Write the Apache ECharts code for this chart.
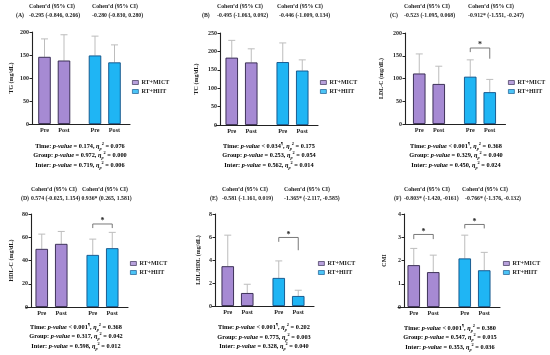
<!DOCTYPE html>
<html><head><meta charset="utf-8">
<script src="https://cdn.jsdelivr.net/npm/echarts@6/dist/echarts.min.js"></script>
<style>html,body{margin:0;padding:0;background:#fff}#c{width:550px;height:355px}</style>
</head><body><div id="c"></div>
<script>
// ---------- data ----------
const phases = ['Pre', 'Post'];
const groups = ['RT+MICT', 'RT+HIIT'];
const letters = ['(A)', '(B)', '(C)', '(D)', '(E)', '(F)'];
const yNames = ['TG (mg/dL)', 'TC (mg/dL)', 'LDL-C (mg/dL)', 'HDL-C (mg/dL)', 'LDL/HDL (mg/dL)', 'CMI'];
const yMax = [200, 250, 200, 80, 8, 4];
const yStep = [50, 50, 50, 20, 2, 1];

// means [Pre, Post] and SD [Pre, Post]
const tgMICT = [146, 138], tgMICTsd = [39, 56];
const tgHIIT = [149, 134], tgHIITsd = [42, 38];
const tcMICT = [183, 170], tcMICTsd = [47, 37];
const tcHIIT = [171, 148], tcHIITsd = [52, 29];
const ldlMICT = [111, 88], ldlMICTsd = [43, 39];
const ldlHIIT = [104, 70], ldlHIITsd = [37, 28];
const hdlMICT = [50, 54.3], hdlMICTsd = [12.7, 10.7];
const hdlHIIT = [44.8, 50.6], hdlHIITsd = [13.6, 13.6];
const ratioMICT = [3.46, 1.13], ratioMICTsd = [2.7, 0.76];
const ratioHIIT = [2.44, 0.87], ratioHIITsd = [1.48, 0.5];
const cmiMICT = [1.8, 1.5], cmiMICTsd = [0.72, 0.73];
const cmiHIIT = [2.09, 1.58], cmiHIITsd = [1.0, 0.77];

// significance brackets: [group index, bracket height, left leg end, right leg end]
const sigA = [];
const sigB = [];
const sigC = [[1, 167, 158, 143.5]];
const sigD = [[1, 71.4, 67.9, 67.9]];
const sigE = [[1, 5.96, 5.58, 4.85]];
const sigF = [[0, 3.12, 2.92, 2.92], [1, 3.55, 3.38, 3.38]];

const cohenMICT = ['-0.295 (-0.846, 0.266)', '-0.495 (-1.063, 0.092)', '-0.523 (-1.095, 0.068)',
                   '0.574 (-0.025, 1.154)', '-0.581 (-1.161, 0.019)', '-0.803* (-1.420, -0161)'];
const cohenHIIT = ['-0.280 (-0.830, 0.280)', '-0.446 (-1.009, 0.134)', '-0.912* (-1.551, -0.247)',
                   '0.936* (0.265, 1.581)', '-1.365* (-2.117, -0.585)', '-0.766* (-1.376, -0.132)'];

const timeP = ['= 0.174', '< 0.034', '< 0.001', '< 0.001', '< 0.001', '< 0.001'];
const timeMark = ['', '¶', '¶', '¶', '¶', '¶'];
const timeEta = ['0.076', '0.175', '0.368', '0.368', '0.202', '0.380'];
const groupP = ['= 0.972', '= 0.253', '= 0.329', '= 0.317', '= 0.775', '= 0.547'];
const groupEta = ['0.000', '0.054', '0.040', '0.042', '0.003', '0.015'];
const interP = ['= 0.719', '= 0.562', '= 0.450', '= 0.598', '= 0.328', '= 0.353'];
const interEta = ['0.006', '0.014', '0.024', '0.012', '0.040', '0.036'];

const meansMICT = [tgMICT, tcMICT, ldlMICT, hdlMICT, ratioMICT, cmiMICT];
const sdMICT = [tgMICTsd, tcMICTsd, ldlMICTsd, hdlMICTsd, ratioMICTsd, cmiMICTsd];
const meansHIIT = [tgHIIT, tcHIIT, ldlHIIT, hdlHIIT, ratioHIIT, cmiHIIT];
const sdHIIT = [tgHIITsd, tcHIITsd, ldlHIITsd, hdlHIITsd, ratioHIITsd, cmiHIITsd];
const sigs = [sigA, sigB, sigC, sigD, sigE, sigF];

// ---------- layout / style ----------
const FONT = 'Liberation Serif';
const TXT = '#1e1e1e';
const PURPLE = '#A68AD3', PURPLE_B = '#2E2248';
const BLUE = '#1FB5F4', BLUE_B = '#0F4F86';
const ERR = '#BDBDBD';
const BAR_W = 12.5, BAR_GAP = 0.56;
const HALF = BAR_W * (1 + BAR_GAP) / 2;

const L = [
  {left: 29, width: 101, top: 32, height: 92, off: -3, nameGap: 18, lgX: 132, lgY: 79.5,
   c1: 29, c2t: 92, c2v: 92, lx: 16, cy1: 6.5, cy2: 15.5, sx: 80, sy: 146},
  {left: 216, width: 102, top: 33, height: 92, off: -4, nameGap: 21, lgX: 320, lgY: 79.5,
   c1: 217, c2t: 277, c2v: 279, lx: 202, cy1: 7, cy2: 15.5, sx: 269, sy: 146},
  {left: 403.5, width: 102, top: 33, height: 91, off: -1.5, nameGap: 21, lgX: 508, lgY: 79.5,
   c1: 404, c2t: 468, c2v: 468, lx: 390, cy1: 6.5, cy2: 15.5, sx: 456, sy: 146},
  {left: 26, width: 102, top: 214, height: 93, off: -5, nameGap: 17, lgX: 130, lgY: 260.5,
   c1: 31, c2t: 82, c2v: 81.5, lx: 21, cy1: 190, cy2: 198.5, sx: 76, sy: 327},
  {left: 212, width: 102, top: 214, height: 92, off: -3, nameGap: 14, lgX: 318, lgY: 260.5,
   c1: 222, c2t: 284, c2v: 284, lx: 210, cy1: 190, cy2: 198.5, sx: 264, sy: 327.5},
  {left: 398, width: 102, top: 214, height: 93, off: -6, nameGap: 17, lgX: 503, lgY: 260.5,
   c1: 404, c2t: 462, c2v: 465, lx: 394, cy1: 189.5, cy2: 198.5, sx: 450, sy: 328}
];

const baseText = {fontFamily: FONT, fontWeight: 'bold', fontSize: 6.3, color: TXT};
const rich = {
  b: Object.assign({}, baseText, {lineHeight: 9}),
  i: Object.assign({}, baseText, {fontStyle: 'italic', lineHeight: 9}),
  sup: Object.assign({}, baseText, {fontSize: 4.3, lineHeight: 5, verticalAlign: 'top'}),
  sub: Object.assign({}, baseText, {fontSize: 4.3, fontStyle: 'italic', lineHeight: 5, verticalAlign: 'bottom'})
};

const grids = [], xAxes = [], yAxes = [], series = [], legends = [], graphics = [];

function txt(x, y, text, align) {
  graphics.push({type: 'text', x: x, y: y, silent: true,
    style: {text: text, fill: TXT, font: 'bold 5.8px "' + FONT + '"', textAlign: align || 'left', textVerticalAlign: 'middle'}});
}
function richTxt(x, y, text) {
  graphics.push({type: 'text', x: x, y: y, silent: true,
    style: {text: text, rich: rich, textAlign: 'center', textVerticalAlign: 'middle'}});
}

for (let p = 0; p < 6; p++) {
  const l = L[p];
  grids.push({left: l.left, top: l.top, width: l.width, height: l.height, containLabel: false});
  xAxes.push({type: 'category', gridIndex: p, data: groups,
    axisLine: {lineStyle: {color: '#222', width: 1.1}}, axisTick: {show: false}, axisLabel: {show: false}});
  yAxes.push({type: 'value', gridIndex: p, min: 0, max: yMax[p], interval: yStep[p], offset: l.off,
    name: yNames[p], nameLocation: 'middle', nameGap: l.nameGap, nameRotate: 90,
    nameTextStyle: {fontFamily: FONT, fontWeight: 'bold', fontSize: 6, color: TXT},
    axisLine: {show: true, lineStyle: {color: '#222', width: 1.1}},
    axisTick: {show: true, length: 2.5, lineStyle: {color: '#222', width: 1}},
    axisLabel: {fontFamily: FONT, fontWeight: 'bold', fontSize: 6, color: TXT, margin: 3},
    splitLine: {show: false}});

  for (let ph = 0; ph < 2; ph++) {
    series.push({type: 'bar', name: phases[ph], xAxisIndex: p, yAxisIndex: p,
      barWidth: BAR_W, barGap: (BAR_GAP * 100) + '%',
      data: [
        {value: meansMICT[p][ph], itemStyle: {color: PURPLE, borderColor: PURPLE_B, borderWidth: 0.9}},
        {value: meansHIIT[p][ph], itemStyle: {color: BLUE, borderColor: BLUE_B, borderWidth: 0.9}}
      ],
      label: {show: true, position: 'bottom', distance: 3, formatter: phases[ph],
        fontFamily: FONT, fontWeight: 'bold', fontSize: 6.2, color: TXT},
      silent: true, z: 3});
  }
  // error bars (upper)
  const errData = [];
  for (let ph = 0; ph < 2; ph++) {
    errData.push([0, meansMICT[p][ph], sdMICT[p][ph], ph]);
    errData.push([1, meansHIIT[p][ph], sdHIIT[p][ph], ph]);
  }
  series.push({type: 'custom', xAxisIndex: p, yAxisIndex: p, data: errData, silent: true, z: 2,
    renderItem: function (params, api) {
      const g = api.value(0), m = api.value(1), sd = api.value(2), ph = api.value(3);
      const b = api.coord([g, m]), t = api.coord([g, m + sd]);
      const x = b[0] + (ph === 0 ? -HALF : HALF);
      const st = {stroke: ERR, lineWidth: 1};
      return {type: 'group', children: [
        {type: 'line', shape: {x1: x, y1: b[1], x2: x, y2: t[1]}, style: st},
        {type: 'line', shape: {x1: x - 3.5, y1: t[1], x2: x + 3.5, y2: t[1]}, style: st}
      ]};
    }});
  // significance brackets
  if (sigs[p].length) {
    series.push({type: 'custom', xAxisIndex: p, yAxisIndex: p, data: sigs[p], silent: true, z: 4,
      renderItem: function (params, api) {
        const g = api.value(0);
        const c = api.coord([g, api.value(1)]);
        const yl = api.coord([g, api.value(2)])[1], yr = api.coord([g, api.value(3)])[1];
        const xl = c[0] - HALF, xr = c[0] + HALF;
        return {type: 'group', children: [
          {type: 'polyline', shape: {points: [[xl, yl], [xl, c[1]], [xr, c[1]], [xr, yr]]},
           style: {stroke: '#6a6a6a', lineWidth: 0.9, fill: null}},
          {type: 'text', x: c[0], y: c[1] - 3, style: {text: '*', fill: TXT,
            font: 'bold 8px "' + FONT + '"', textAlign: 'center', textVerticalAlign: 'middle'}}
        ]};
      }});
  }
  legends.push({orient: 'vertical', left: l.lgX, top: l.lgY, itemWidth: 6, itemHeight: 4, itemGap: 3,
    padding: 0, icon: 'rect', selectedMode: false,
    textStyle: {fontFamily: FONT, fontWeight: 'bold', fontSize: 6, color: TXT, padding: [0, 0, 0, -2]},
    data: [
      {name: groups[0], itemStyle: {color: PURPLE, borderColor: PURPLE_B, borderWidth: 0.8}},
      {name: groups[1], itemStyle: {color: BLUE, borderColor: BLUE_B, borderWidth: 0.8}}
    ]});

  // texts
  txt(l.c1, l.cy1, 'Cohen\u2019d (95% CI)');
  txt(l.c2t, l.cy1, 'Cohen\u2019d (95% CI)');
  txt(l.lx, l.cy2, letters[p]);
  txt(l.c1, l.cy2, cohenMICT[p]);
  txt(l.c2v, l.cy2, cohenHIIT[p]);
  const eta = '{i|\u03b7}{sub|p}{sup|2}';
  richTxt(l.sx, l.sy, '{b|Time: }{i|p-value}{b| ' + timeP[p] + '}' + (timeMark[p] ? '{sup|' + timeMark[p] + '}' : '') +
    '{b|, }' + eta + '{b| = ' + timeEta[p] + '}');
  richTxt(l.sx, l.sy + 9.6, '{b|Group: }{i|p-value}{b| ' + groupP[p] + ', }' + eta + '{b| = ' + groupEta[p] + '}');
  richTxt(l.sx, l.sy + 19.2, '{b|Inter: }{i|p-value}{b| ' + interP[p] + ', }' + eta + '{b| = ' + interEta[p] + '}');
}
// legend-only series
series.push({type: 'scatter', name: groups[0], xAxisIndex: 0, yAxisIndex: 0, data: [], itemStyle: {color: PURPLE}});
series.push({type: 'scatter', name: groups[1], xAxisIndex: 0, yAxisIndex: 0, data: [], itemStyle: {color: BLUE}});

const chart = echarts.init(document.getElementById('c'), null, {renderer: 'canvas'});
chart.setOption({
  animation: false,
  backgroundColor: '#fff',
  grid: grids, xAxis: xAxes, yAxis: yAxes, series: series, legend: legends,
  graphic: {elements: graphics}
});
</script>
</body></html>
